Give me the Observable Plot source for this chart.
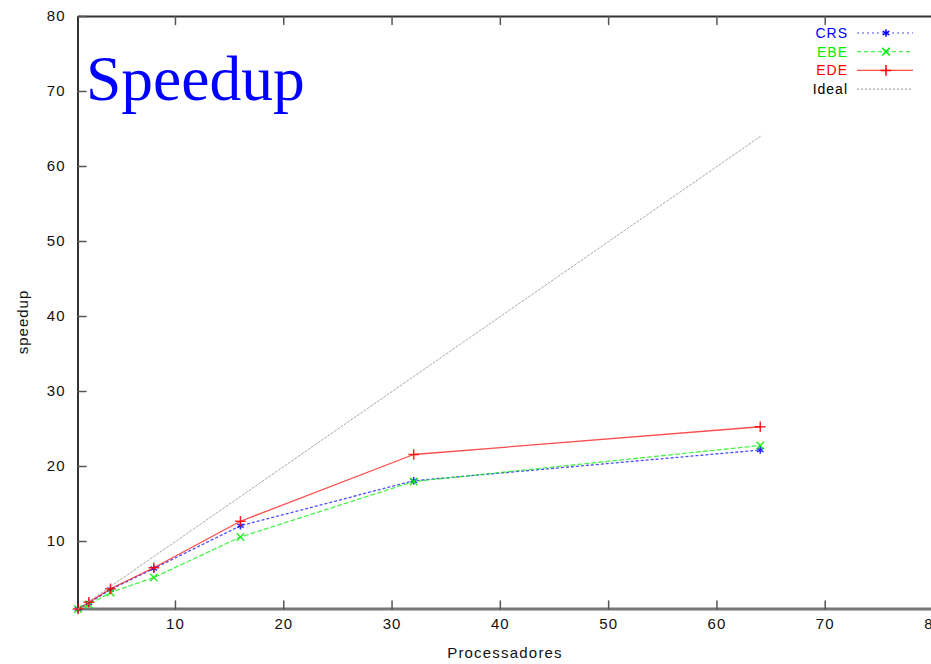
<!DOCTYPE html>
<html><head><meta charset="utf-8">
<script src="https://cdn.jsdelivr.net/npm/d3@7"></script>
<script src="https://cdn.jsdelivr.net/npm/@observablehq/plot@0.6"></script>
<style>
body{margin:0;background:#fff;overflow:hidden}
#wrap{position:relative;width:931px;height:664px;overflow:hidden;background:#fff}
#wrap svg text{letter-spacing:1px}
#title{position:absolute;left:86px;top:47px;font-family:"Liberation Serif",serif;font-size:63.5px;line-height:1;color:#0000ff;white-space:nowrap}
#xlabel{position:absolute;left:0;width:1010px;text-align:center;top:645px;font-family:"Liberation Sans",sans-serif;font-size:15px;letter-spacing:1.2px;color:#111;line-height:1}
#ylabel{position:absolute;left:22px;top:322px;transform:translate(-50%,-50%) rotate(-90deg);font-family:"Liberation Sans",sans-serif;font-size:15px;letter-spacing:1px;color:#111;line-height:1;white-space:nowrap}
#legend{position:absolute;left:780px;top:24px}
</style></head><body><div id="wrap"></div>
<script>
const procs = [1, 2, 4, 8, 16, 32, 64];
const crs   = [1, 1.8, 3.6, 6.4, 12.1, 18.1, 22.2];
const ebe   = [1, 1.6, 3.2, 5.2, 10.6, 18.0, 22.8];
const ede   = [1, 1.9, 3.7, 6.5, 12.7, 21.6, 25.3];
const ideal = [1, 2, 4, 8, 16, 32, 64];
const seriesNames = ["CRS", "EBE", "EDE", "Ideal"];
const xTicks = [10, 20, 30, 40, 50, 60, 70, 80];
const yTicks = [10, 20, 30, 40, 50, 60, 70, 80];

const valuesByName = {CRS: crs, EBE: ebe, EDE: ede, Ideal: ideal};
const styles = {
  CRS:   {stroke: "#0000ff", dash: "2,3", symbol: "asterisk"},
  EBE:   {stroke: "#00ee00", dash: "4,3", symbol: "times"},
  EDE:   {stroke: "#ff0000", dash: null,  symbol: "plus"},
  Ideal: {stroke: "#a8a8a8", dash: "2,2", symbol: null}
};
const rows = seriesNames.flatMap(name => procs.map((p, i) => ({name, p, v: valuesByName[name][i]})));

const tickShape = {draw(context, l) { context.moveTo(0, 0); context.lineTo(0, -l); }};

const marks = [
  Plot.ruleY([1], {stroke: "#777", strokeWidth: 3}),
  Plot.ruleX([1], {stroke: "#333", strokeWidth: 2}),
  Plot.ruleY([80], {stroke: "#333", strokeWidth: 2}),
  Plot.vector(yTicks, {x: 1, y: d => d, length: 8, rotate: 90, anchor: "start", shape: tickShape, stroke: "#555", strokeWidth: 1.5}),
  Plot.vector(xTicks, {x: d => d, y: 1, length: 8, rotate: 0, anchor: "start", shape: tickShape, stroke: "#555", strokeWidth: 1.5}),
  Plot.vector(xTicks, {x: d => d, y: 80, length: 8, rotate: 180, anchor: "start", shape: tickShape, stroke: "#555", strokeWidth: 1.5}),
  Plot.axisX({ticks: xTicks, tickSize: 0, tickPadding: 10, label: null, fontSize: 15, fill: "#111"}),
  Plot.axisY({ticks: yTicks, tickSize: 0, tickPadding: 13, label: null, fontSize: 15, fill: "#111"})
];
for (const name of seriesNames) {
  const s = styles[name];
  const data = rows.filter(d => d.name === name);
  marks.push(Plot.line(data, {x: "p", y: "v", stroke: s.stroke, strokeWidth: name === "Ideal" ? 1 : 1.3, strokeOpacity: name === "Ideal" ? 1 : 0.7, strokeDasharray: s.dash}));
  if (s.symbol) marks.push(Plot.dot(data, {x: "p", y: "v", symbol: s.symbol, r: 3.5, stroke: s.stroke, strokeWidth: 1.5, strokeOpacity: 0.85}));
}

const chart = Plot.plot({
  width: 931, height: 664,
  marginLeft: 78, marginTop: 16, marginBottom: 56, marginRight: 0,
  style: {fontFamily: "Liberation Sans, sans-serif", background: "#fff"},
  x: {domain: [1, 80], range: [77.5, 933]},
  y: {domain: [1, 80], range: [608.5, 16]},
  marks
});
const wrap = document.getElementById("wrap");
wrap.appendChild(chart);

const title = document.createElement("div"); title.id = "title"; title.textContent = "Speedup"; wrap.appendChild(title);
const xl = document.createElement("div"); xl.id = "xlabel"; xl.textContent = "Processadores"; wrap.appendChild(xl);
const yl = document.createElement("div"); yl.id = "ylabel"; yl.textContent = "speedup"; wrap.appendChild(yl);

// legend
const lg = d3.select(wrap).append("svg").attr("id", "legend").attr("width", 151).attr("height", 80);
const symbolMap = {asterisk: d3.symbolAsterisk, times: d3.symbolTimes, plus: d3.symbolPlus};
seriesNames.forEach((name, i) => {
  const s = styles[name];
  const y = 9 + i * 18.7;
  lg.append("text").attr("x", 68).attr("y", y).attr("dy", "0.36em").attr("text-anchor", "end")
    .attr("font-family", "Liberation Sans, sans-serif").attr("font-size", 14).attr("letter-spacing", "1.3px")
    .attr("fill", name === "Ideal" ? "#000" : s.stroke).text(name);
  lg.append("line").attr("x1", 77).attr("x2", 133).attr("y1", y).attr("y2", y)
    .attr("stroke", s.stroke).attr("stroke-width", 1.2).attr("stroke-opacity", name === "Ideal" ? 1 : 0.7).attr("stroke-dasharray", s.dash);
  if (s.symbol) lg.append("path").attr("transform", `translate(106,${y})`)
    .attr("d", d3.symbol(symbolMap[s.symbol], 40)()).attr("fill", "none").attr("stroke", s.stroke).attr("stroke-width", 1.5);
});
</script></body></html>
